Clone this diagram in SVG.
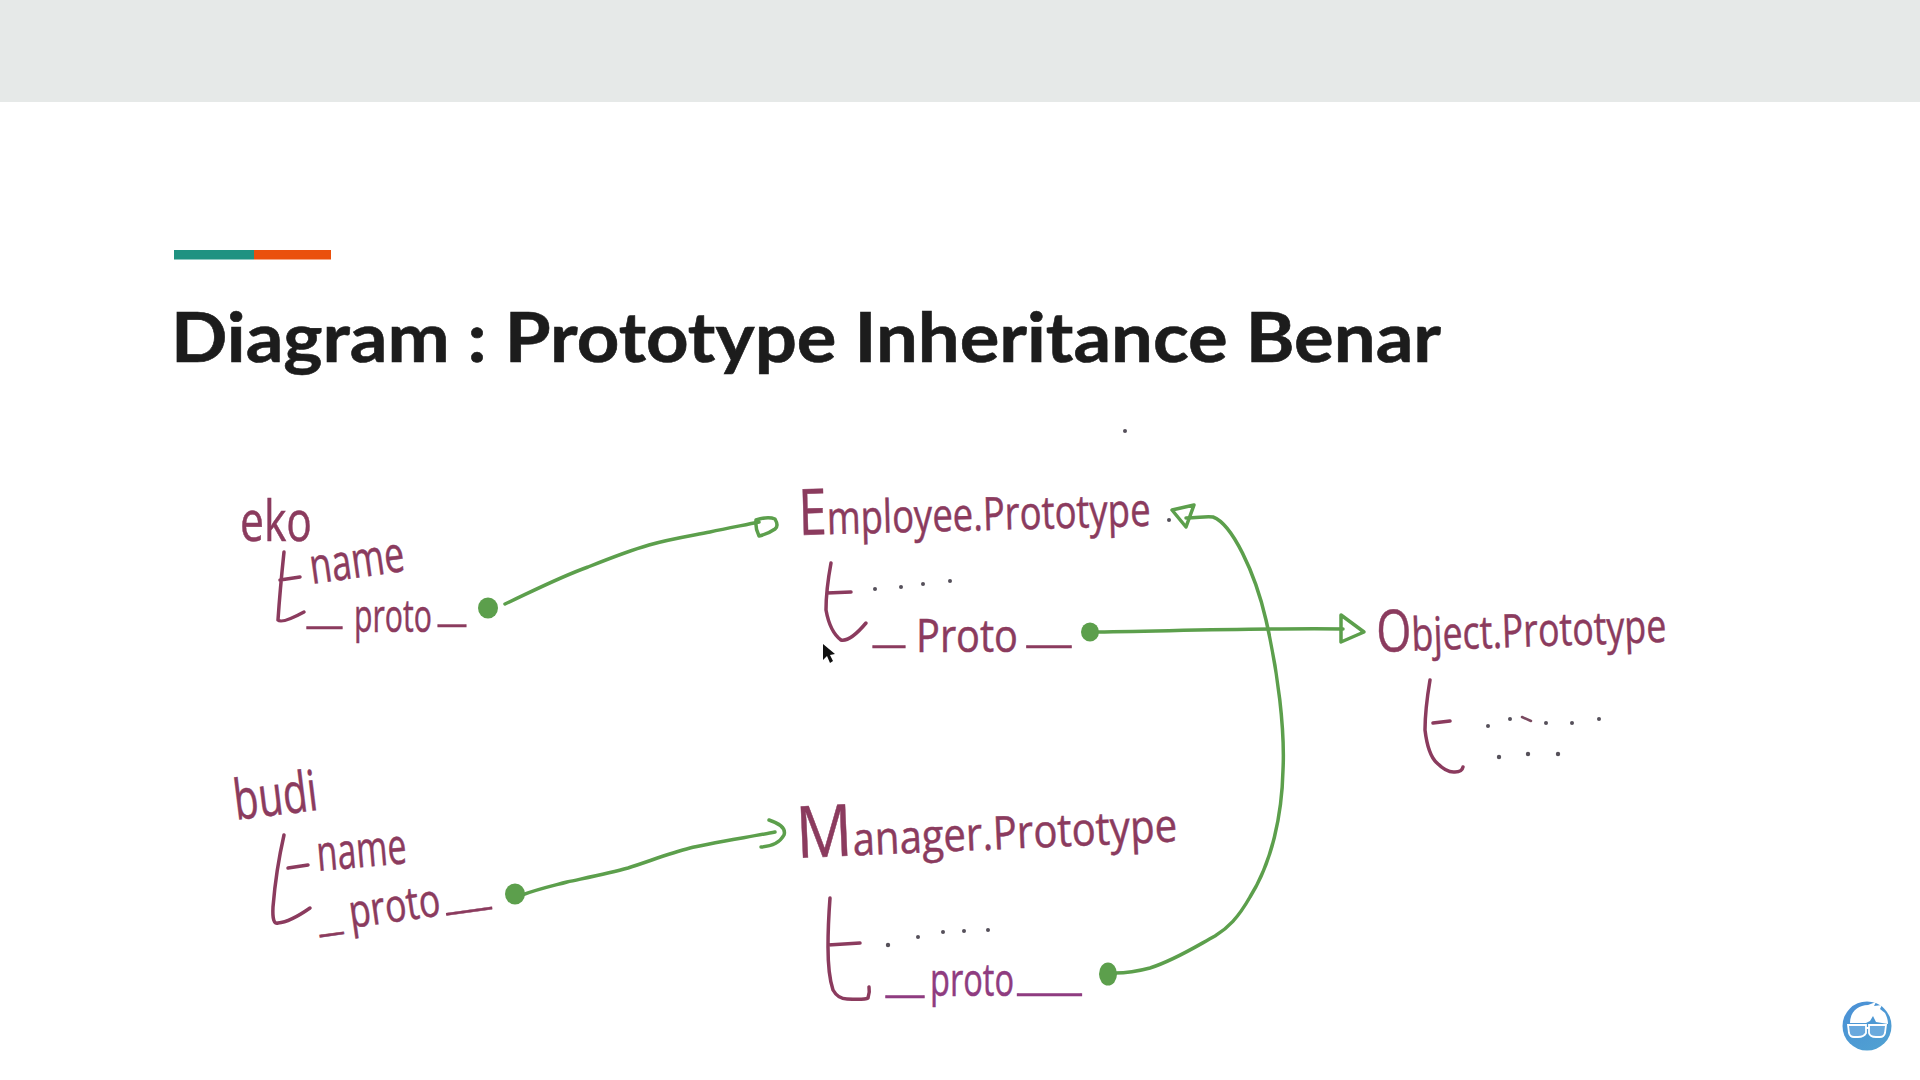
<svg xmlns="http://www.w3.org/2000/svg" width="1920" height="1080" viewBox="0 0 1920 1080">
<style>
.h{font-family:"Open Sans","Liberation Sans",sans-serif;fill:#8b3b5e;font-size:46px;stroke:#8b3b5e;stroke-width:.5}
.u{font-size:40px}
.b{fill:none;stroke:#8b3b5e;stroke-width:3.5;stroke-linecap:round;stroke-linejoin:round}
.g{fill:none;stroke:#5c9f4c;stroke-width:3.5;stroke-linecap:round;stroke-linejoin:round}
.gd{fill:#5c9f4c}
.d{fill:#55505a}
.m{fill:#8f3c80;stroke:#8f3c80}
</style>
<defs><linearGradient id="lg" x1="0" y1="0" x2="0.6" y2="1"><stop offset="0" stop-color="#4a8fd6"/><stop offset="1" stop-color="#4f9fd2"/></linearGradient></defs>
<rect width="1920" height="1080" fill="#fff"/>
<rect id="topband" width="1920" height="102" fill="#e6e9e8"/>
<g id="title">
<rect x="174" y="250" width="80" height="9.5" fill="#1f9281"/>
<rect x="254" y="250" width="77" height="9.5" fill="#ea500c"/>
<text x="171" y="362" font-family="Lato,'Open Sans',sans-serif" font-weight="700" font-size="69" fill="#1c1c1c" stroke="#1c1c1c" stroke-width=".6" textLength="1270" lengthAdjust="spacingAndGlyphs">Diagram : Prototype Inheritance Benar</text>
</g>
<g id="connectors">
<path class="g" d="M505,604C535,590 560,577 588,567C608,559 628,551 649,545C670,539 690,536 710,532C728,528 745,525 759,522"/>
<path class="g" d="M756,520Q768,516 775,519Q779,526 775,529Q768,534 759,536Q755,528 756,520Z"/>
<path class="g" d="M522,895C538,889 552,886 567,882C590,877 610,873 628,868C650,861 670,853 690,848C705,844 755,836 775,832"/>
<path class="g" d="M769,820Q787,826 784,835Q778,846 761,847"/>
<path class="g" d="M1090,632C1170,631 1260,628 1343,629"/>
<path class="g" d="M1341,615L1364,632L1341,642Z"/>
<path class="g" d="M1186,518C1198,518 1205,516 1213,517C1232,524 1255,572 1266,620C1278,672 1285,730 1283,770C1282,815 1272,862 1250,897C1238,918 1228,928 1215,936C1195,947 1175,960 1150,968C1135,972 1122,973 1115,973"/>
<path class="g" d="M1172,510L1194,505L1186,527Z"/>
<ellipse class="gd" cx="488" cy="608" rx="10" ry="10.5"/>
<ellipse class="gd" cx="515" cy="894" rx="10" ry="10.5"/>
<ellipse class="gd" cx="1090" cy="632" rx="9" ry="9.5"/>
<ellipse class="gd" cx="1108" cy="974" rx="9" ry="11.5"/>
</g>
<g id="eko">
<text class="h" x="240" y="541" textLength="72" lengthAdjust="spacingAndGlyphs" style="font-size:56px">eko</text>
<path class="b" d="M284,552Q280,590 278,620Q282,624 304,612M280,580L300,577"/>
<text class="h" x="312" y="584" textLength="95" lengthAdjust="spacingAndGlyphs" transform="rotate(-8 312 584)" style="font-size:50px">name</text>
<text class="h" y="632"><tspan class="u" x="307" dy="-9" textLength="35" lengthAdjust="spacingAndGlyphs">_</tspan><tspan x="354" dy="9" textLength="78" lengthAdjust="spacingAndGlyphs">proto</tspan><tspan class="u" x="438" dy="-11" textLength="28" lengthAdjust="spacingAndGlyphs">_</tspan></text>
</g>
<g id="budi">
<text class="h" x="236" y="820" textLength="84" lengthAdjust="spacingAndGlyphs" transform="rotate(-7 236 820)" style="font-size:56px">budi</text>
<path class="b" d="M284,835Q276,870 273,907Q272,925 278,923Q290,922 310,908M288,868L308,865"/>
<text class="h" x="318" y="871" textLength="90" lengthAdjust="spacingAndGlyphs" transform="rotate(-5 318 871)" style="font-size:50px">name</text>
<text class="h" y="928" transform="rotate(-8 351 928)"><tspan class="u" x="319" dy="-1" textLength="24" lengthAdjust="spacingAndGlyphs">_</tspan><tspan x="351" dy="1" textLength="92" lengthAdjust="spacingAndGlyphs">proto</tspan><tspan class="u" x="448" dy="-5" textLength="45" lengthAdjust="spacingAndGlyphs">_</tspan></text>
</g>
<g id="employee-prototype">
<text class="h" x="799" y="535" textLength="352" lengthAdjust="spacingAndGlyphs" transform="rotate(-1.5 799 535)"><tspan style="font-size:64px">E</tspan>mployee.Prototype</text>
<path class="b" d="M831,563Q826,590 826,610Q830,632 841,640Q850,642 866,623M827,593L851,592"/>
<g class="d"><circle cx="875" cy="589" r="2"/><circle cx="901" cy="587" r="2"/><circle cx="923" cy="584" r="2"/><circle cx="950" cy="581" r="2"/><circle cx="1169" cy="520" r="2"/><circle cx="1125" cy="431" r="2"/></g>
<text class="h" y="652"><tspan class="u" x="873" dy="-10" textLength="32" lengthAdjust="spacingAndGlyphs">_</tspan><tspan x="916" dy="10" textLength="102" lengthAdjust="spacingAndGlyphs">Proto</tspan><tspan class="u" x="1027" dy="-10" textLength="44" lengthAdjust="spacingAndGlyphs">_</tspan></text>
<path d="M823,644L823,660L827,656L830,663L833,661L830,655L835,654Z" fill="#111"/>
</g>
<g id="manager-prototype">
<text class="h" x="797" y="858" textLength="381" lengthAdjust="spacingAndGlyphs" transform="rotate(-2.5 797 858)"><tspan style="font-size:72px">M</tspan>anager.Prototype</text>
<path class="b" d="M830,898Q828,925 828,947Q828,975 833,990Q838,999 847,999Q865,1000 868,998Q870,992 869,987M828,945L860,943"/>
<g class="d"><circle cx="888" cy="945" r="2.2"/><circle cx="918" cy="937" r="2"/><circle cx="943" cy="932" r="2"/><circle cx="964" cy="931" r="2"/><circle cx="988" cy="930" r="2"/></g>
<text class="h m" y="996"><tspan class="u" x="886" dy="-4" textLength="38" lengthAdjust="spacingAndGlyphs">_</tspan><tspan x="930" dy="4" textLength="84" lengthAdjust="spacingAndGlyphs">proto</tspan><tspan class="u" x="1018" dy="-6" textLength="63" lengthAdjust="spacingAndGlyphs">_</tspan></text>
</g>
<g id="object-prototype">
<text class="h" x="1377" y="652" textLength="290" lengthAdjust="spacingAndGlyphs" transform="rotate(-2 1377 652)"><tspan style="font-size:58px">O</tspan>bject.Prototype</text>
<path class="b" d="M1430,680Q1425,710 1425,730Q1428,755 1437,763Q1447,773 1455,772Q1462,772 1463,767M1433,723L1450,721"/>
<g class="d"><circle cx="1488" cy="726" r="2"/><circle cx="1510" cy="719" r="2"/><path d="M1522,717L1531,721" stroke="#7a4a60" stroke-width="2.5" stroke-linecap="round"/><circle cx="1546" cy="723" r="2"/><circle cx="1572" cy="723" r="2"/><circle cx="1599" cy="719" r="2"/><circle cx="1499" cy="757" r="2.2"/><circle cx="1528" cy="754" r="2.2"/><circle cx="1558" cy="754" r="2.2"/></g>
</g>
<g id="logo">
<circle cx="1867" cy="1026" r="24.5" fill="url(#lg)"/>
<path d="M1850,1023C1850,1012 1858,1005 1868,1005L1876,1002L1874,1006L1882,1005L1880,1009L1885,1013C1887,1017 1888,1020 1888,1024L1876,1022L1873,1016L1870,1021L1866,1023Z" fill="#fff"/>
<path d="M1848,1025H1866V1033Q1864,1037 1858,1037H1854Q1850,1037 1849,1033ZM1869,1025H1886L1885,1033Q1884,1037 1880,1037H1876Q1870,1037 1869,1033ZM1866,1028H1869" fill="#7db4e4" fill-opacity="0.6" stroke="#fff" stroke-width="1.8"/>
</g>
</svg>
